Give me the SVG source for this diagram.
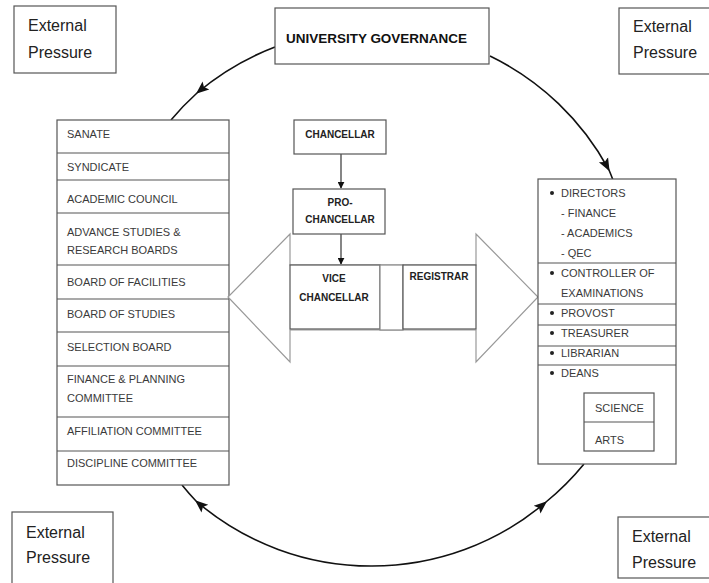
<svg xmlns="http://www.w3.org/2000/svg" width="709" height="583" viewBox="0 0 709 583">
  <defs>
    <marker id="arrow" viewBox="0 0 10 10" refX="9" refY="5" markerWidth="7" markerHeight="7" markerUnits="userSpaceOnUse" orient="auto">
      <path d="M0,0 L10,5 L0,10 z" fill="#111"/>
    </marker>
    <marker id="bigArrow" viewBox="0 0 10 10" refX="9" refY="5" markerWidth="13" markerHeight="13" markerUnits="userSpaceOnUse" orient="auto">
      <path d="M0,1 L10,5 L0,9 L2,5 z" fill="#111"/>
    </marker>
  </defs>
  <style>
    .box { fill: #fff; stroke: #555; stroke-width: 1.2; }
    .ext { font-family: "Liberation Sans", Arial, sans-serif; font-size: 16px; fill: #222; }
    .item { font-family: "Liberation Sans", Arial, sans-serif; font-size: 11px; fill: #3a3a3a; }
    .role { font-family: "Liberation Sans", Arial, sans-serif; font-size: 10px; font-weight: bold; fill: #222; }
    .title { font-family: "Liberation Sans", Arial, sans-serif; font-size: 13px; font-weight: bold; fill: #111; }
    .arc { fill: none; stroke: #111; stroke-width: 1.6; }
    .link { fill: none; stroke: #222; stroke-width: 1.1; }
    .big { fill: #fff; stroke: #999; stroke-width: 1.2; }
    .bullet { fill: #222; }
  </style>
  <rect width="709" height="583" fill="#fff"/>

  <!-- circular flow connectors -->
  <g id="connectors">
    <path class="arc" d="M275,47 A268,268 0 0 0 197,93" marker-end="url(#bigArrow)"/>
    <path class="arc" d="M197,93 A268,268 0 0 0 171,120"/>
    <path class="arc" d="M490,56 A268,268 0 0 1 609,170" marker-end="url(#bigArrow)"/>
    <path class="arc" d="M609,170 A268,268 0 0 1 613,180"/>
    <path class="arc" d="M372,566 A268,268 0 0 1 196,501" marker-end="url(#bigArrow)"/>
    <path class="arc" d="M196,501 A268,268 0 0 1 182,485"/>
    <path class="arc" d="M372,566 A268,268 0 0 0 546,502" marker-end="url(#bigArrow)"/>
    <path class="arc" d="M546,502 A268,268 0 0 0 584,464"/>
    <line class="link" x1="341" y1="154" x2="341" y2="188" marker-end="url(#arrow)"/>
    <line class="link" x1="341" y1="234" x2="341" y2="264" marker-end="url(#arrow)"/>
    <line class="link" x1="380" y1="299" x2="402" y2="299" marker-end="url(#arrow)"/>
  </g>

  <!-- external pressure corners -->
  <g id="ext-tl">
    <rect class="box" x="14" y="6" width="102" height="67"/>
    <text class="ext" x="28" y="31">External</text>
    <text class="ext" x="28" y="58">Pressure</text>
  </g>
  <g id="ext-tr">
    <rect class="box" x="619" y="8" width="92" height="66"/>
    <text class="ext" x="633" y="32">External</text>
    <text class="ext" x="633" y="58">Pressure</text>
  </g>
  <g id="ext-bl">
    <rect class="box" x="12" y="512" width="101" height="80"/>
    <text class="ext" x="26" y="538">External</text>
    <text class="ext" x="26" y="563">Pressure</text>
  </g>
  <g id="ext-br">
    <rect class="box" x="618" y="517" width="95" height="61"/>
    <text class="ext" x="632" y="542">External</text>
    <text class="ext" x="632" y="568">Pressure</text>
  </g>

  <!-- governance title -->
  <g id="governance">
    <rect class="box" x="275" y="8" width="214" height="56"/>
    <text class="title" x="286" y="43" textLength="181" lengthAdjust="spacingAndGlyphs">UNIVERSITY GOVERNANCE</text>
  </g>

  <!-- statutory bodies -->
  <g id="bodies">
    <rect class="box" x="57" y="120" width="172" height="365"/>
    <g stroke="#555" stroke-width="1.2">
      <line x1="57" y1="153" x2="229" y2="153"/>
      <line x1="57" y1="180" x2="229" y2="180"/>
      <line x1="57" y1="213" x2="229" y2="213"/>
      <line x1="57" y1="265" x2="229" y2="265"/>
      <line x1="57" y1="299" x2="229" y2="299"/>
      <line x1="57" y1="332" x2="229" y2="332"/>
      <line x1="57" y1="366" x2="229" y2="366"/>
      <line x1="57" y1="417" x2="229" y2="417"/>
      <line x1="57" y1="451" x2="229" y2="451"/>
    </g>
    <text class="item" x="67" y="138">SANATE</text>
    <text class="item" x="67" y="171">SYNDICATE</text>
    <text class="item" x="67" y="203">ACADEMIC COUNCIL</text>
    <text class="item" x="67" y="236">ADVANCE STUDIES &amp;</text>
    <text class="item" x="67" y="254">RESEARCH BOARDS</text>
    <text class="item" x="67" y="286">BOARD OF FACILITIES</text>
    <text class="item" x="67" y="318">BOARD OF STUDIES</text>
    <text class="item" x="67" y="351">SELECTION BOARD</text>
    <text class="item" x="67" y="383">FINANCE &amp; PLANNING</text>
    <text class="item" x="67" y="402">COMMITTEE</text>
    <text class="item" x="67" y="435">AFFILIATION COMMITTEE</text>
    <text class="item" x="67" y="467">DISCIPLINE COMMITTEE</text>
  </g>

  <!-- double-headed block arrow -->
  <g id="block-arrow">
    <path class="big" d="M290,265 L290,234 L228,297 L290,362 L290,330 L476,330 L476,362 L538,297 L476,234 L476,265 Z"/>
  </g>

  <g id="chancellar">
    <rect class="box" x="294" y="120" width="92" height="34"/>
    <text class="role" x="340" y="138" text-anchor="middle">CHANCELLAR</text>
  </g>
  <g id="pro-chancellar">
    <rect class="box" x="293" y="189" width="92" height="45"/>
    <text class="role" x="340" y="206" text-anchor="middle">PRO-</text>
    <text class="role" x="340" y="223" text-anchor="middle">CHANCELLAR</text>
  </g>
  <g id="vice-chancellar">
    <rect class="box" x="290" y="265" width="90" height="64"/>
    <text class="role" x="334" y="282" text-anchor="middle">VICE</text>
    <text class="role" x="334" y="301" text-anchor="middle">CHANCELLAR</text>
  </g>
  <g id="link-box">
    <rect x="380" y="265" width="23" height="65" fill="#fff" stroke="#888" stroke-width="1.2"/>
  </g>
  <g id="registrar">
    <rect class="box" x="403" y="265" width="73" height="64"/>
    <text class="role" x="439" y="280" text-anchor="middle">REGISTRAR</text>
  </g>

  <!-- principal officers -->
  <g id="officers">
    <rect class="box" x="538" y="179" width="138" height="285"/>
    <g stroke="#555" stroke-width="1.2">
      <line x1="538" y1="263" x2="676" y2="263"/>
      <line x1="538" y1="304" x2="676" y2="304"/>
      <line x1="538" y1="325" x2="676" y2="325"/>
      <line x1="538" y1="346" x2="676" y2="346"/>
      <line x1="538" y1="365" x2="676" y2="365"/>
    </g>
    <circle class="bullet" cx="552" cy="193" r="2"/>
    <circle class="bullet" cx="552" cy="273" r="2"/>
    <circle class="bullet" cx="552" cy="313" r="2"/>
    <circle class="bullet" cx="552" cy="333" r="2"/>
    <circle class="bullet" cx="552" cy="353" r="2"/>
    <circle class="bullet" cx="552" cy="373" r="2"/>
    <text class="item" x="561" y="197">DIRECTORS</text>
    <text class="item" x="561" y="217">- FINANCE</text>
    <text class="item" x="561" y="237">- ACADEMICS</text>
    <text class="item" x="561" y="257">- QEC</text>
    <text class="item" x="561" y="277">CONTROLLER OF</text>
    <text class="item" x="561" y="297">EXAMINATIONS</text>
    <text class="item" x="561" y="317">PROVOST</text>
    <text class="item" x="561" y="337">TREASURER</text>
    <text class="item" x="561" y="357">LIBRARIAN</text>
    <text class="item" x="561" y="377">DEANS</text>
  </g>
  <g id="deans">
    <rect class="box" x="584" y="393" width="70" height="58"/>
    <line x1="584" y1="422" x2="654" y2="422" stroke="#555" stroke-width="1.2"/>
    <text class="item" x="595" y="412">SCIENCE</text>
    <text class="item" x="595" y="444">ARTS</text>
  </g>
</svg>
